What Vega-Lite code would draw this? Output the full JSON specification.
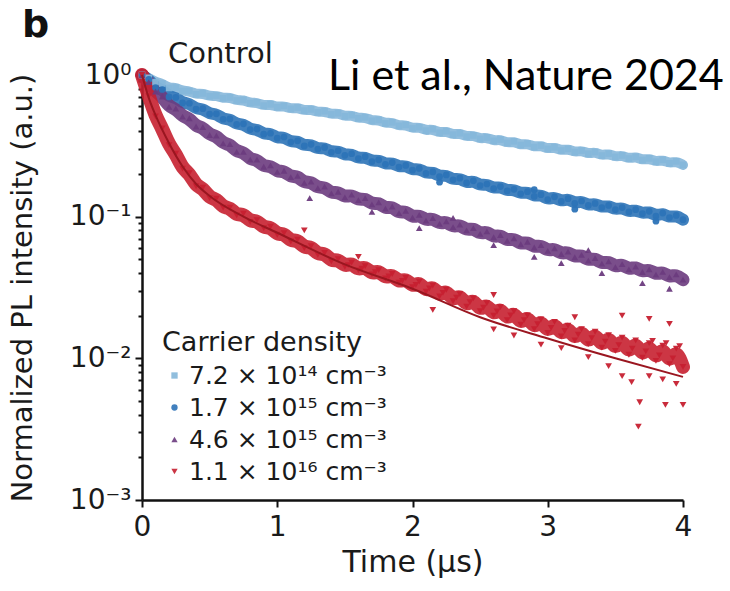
{
  "$schema": "https://vega.github.io/schema/vega-lite/v6.json",
  "width": 541,
  "height": 425,
  "autosize": {"type": "none"},
  "padding": {"left": 142, "top": 75, "right": 47, "bottom": 91},
  "background": "white",
  "config": {
    "view": {"stroke": null},
    "font": "DejaVu Sans",
    "axis": {"domainColor": "#111", "domainWidth": 2.5, "tickColor": "#111", "tickWidth": 2, "labelColor": "#1a1a1a", "titleColor": "#1a1a1a", "labelFont": "DejaVu Sans", "titleFont": "DejaVu Sans", "titleFontWeight": "normal", "grid": false, "labelFlush": false}
  },
  "datasets": {
    "pl": [
      {"d":"7.2e14","t":0,"v":1.0},{"d":"7.2e14","t":0.05,"v":0.955},{"d":"7.2e14","t":0.1,"v":0.89},{"d":"7.2e14","t":0.15,"v":0.87},{"d":"7.2e14","t":0.2,"v":0.81},{"d":"7.2e14","t":0.25,"v":0.815},{"d":"7.2e14","t":0.3,"v":0.77},{"d":"7.2e14","t":0.35,"v":0.772},{"d":"7.2e14","t":0.4,"v":0.73},{"d":"7.2e14","t":0.45,"v":0.742},{"d":"7.2e14","t":0.5,"v":0.708},{"d":"7.2e14","t":0.55,"v":0.716},{"d":"7.2e14","t":0.6,"v":0.685},{"d":"7.2e14","t":0.65,"v":0.695},{"d":"7.2e14","t":0.7,"v":0.661},{"d":"7.2e14","t":0.75,"v":0.667},{"d":"7.2e14","t":0.8,"v":0.634},{"d":"7.2e14","t":0.85,"v":0.641},{"d":"7.2e14","t":0.9,"v":0.607},{"d":"7.2e14","t":0.95,"v":0.622},{"d":"7.2e14","t":1.0,"v":0.592},{"d":"7.2e14","t":1.05,"v":0.605},{"d":"7.2e14","t":1.1,"v":0.577},{"d":"7.2e14","t":1.15,"v":0.589},{"d":"7.2e14","t":1.2,"v":0.561},{"d":"7.2e14","t":1.25,"v":0.572},{"d":"7.2e14","t":1.3,"v":0.545},{"d":"7.2e14","t":1.35,"v":0.555},{"d":"7.2e14","t":1.4,"v":0.527},{"d":"7.2e14","t":1.45,"v":0.538},{"d":"7.2e14","t":1.5,"v":0.511},{"d":"7.2e14","t":1.55,"v":0.521},{"d":"7.2e14","t":1.6,"v":0.494},{"d":"7.2e14","t":1.65,"v":0.503},{"d":"7.2e14","t":1.7,"v":0.475},{"d":"7.2e14","t":1.75,"v":0.482},{"d":"7.2e14","t":1.8,"v":0.455},{"d":"7.2e14","t":1.85,"v":0.464},{"d":"7.2e14","t":1.9,"v":0.437},{"d":"7.2e14","t":1.95,"v":0.445},{"d":"7.2e14","t":2.0,"v":0.419},{"d":"7.2e14","t":2.05,"v":0.429},{"d":"7.2e14","t":2.1,"v":0.405},{"d":"7.2e14","t":2.15,"v":0.415},{"d":"7.2e14","t":2.2,"v":0.391},{"d":"7.2e14","t":2.25,"v":0.401},{"d":"7.2e14","t":2.3,"v":0.379},{"d":"7.2e14","t":2.35,"v":0.388},{"d":"7.2e14","t":2.4,"v":0.367},{"d":"7.2e14","t":2.45,"v":0.375},{"d":"7.2e14","t":2.5,"v":0.354},{"d":"7.2e14","t":2.55,"v":0.363},{"d":"7.2e14","t":2.6,"v":0.343},{"d":"7.2e14","t":2.65,"v":0.351},{"d":"7.2e14","t":2.7,"v":0.331},{"d":"7.2e14","t":2.75,"v":0.34},{"d":"7.2e14","t":2.8,"v":0.32},{"d":"7.2e14","t":2.85,"v":0.328},{"d":"7.2e14","t":2.9,"v":0.31},{"d":"7.2e14","t":2.95,"v":0.318},{"d":"7.2e14","t":3.0,"v":0.301},{"d":"7.2e14","t":3.05,"v":0.309},{"d":"7.2e14","t":3.1,"v":0.293},{"d":"7.2e14","t":3.15,"v":0.301},{"d":"7.2e14","t":3.2,"v":0.285},{"d":"7.2e14","t":3.25,"v":0.293},{"d":"7.2e14","t":3.3,"v":0.278},{"d":"7.2e14","t":3.35,"v":0.286},{"d":"7.2e14","t":3.4,"v":0.27},{"d":"7.2e14","t":3.45,"v":0.279},{"d":"7.2e14","t":3.5,"v":0.264},{"d":"7.2e14","t":3.55,"v":0.271},{"d":"7.2e14","t":3.6,"v":0.257},{"d":"7.2e14","t":3.65,"v":0.265},{"d":"7.2e14","t":3.7,"v":0.251},{"d":"7.2e14","t":3.75,"v":0.258},{"d":"7.2e14","t":3.8,"v":0.244},{"d":"7.2e14","t":3.85,"v":0.252},{"d":"7.2e14","t":3.9,"v":0.238},{"d":"7.2e14","t":3.95,"v":0.246},{"d":"7.2e14","t":4.0,"v":0.232},
      {"d":"1.7e15","t":0,"v":1.0},{"d":"1.7e15","t":0.05,"v":0.93},{"d":"1.7e15","t":0.1,"v":0.815},{"d":"1.7e15","t":0.15,"v":0.79},{"d":"1.7e15","t":0.2,"v":0.7},{"d":"1.7e15","t":0.25,"v":0.695},{"d":"1.7e15","t":0.3,"v":0.635},{"d":"1.7e15","t":0.35,"v":0.632},{"d":"1.7e15","t":0.4,"v":0.575},{"d":"1.7e15","t":0.45,"v":0.578},{"d":"1.7e15","t":0.5,"v":0.53},{"d":"1.7e15","t":0.55,"v":0.532},{"d":"1.7e15","t":0.6,"v":0.487},{"d":"1.7e15","t":0.65,"v":0.49},{"d":"1.7e15","t":0.7,"v":0.448},{"d":"1.7e15","t":0.75,"v":0.452},{"d":"1.7e15","t":0.8,"v":0.412},{"d":"1.7e15","t":0.85,"v":0.415},{"d":"1.7e15","t":0.9,"v":0.382},{"d":"1.7e15","t":0.95,"v":0.388},{"d":"1.7e15","t":1.0,"v":0.358},{"d":"1.7e15","t":1.05,"v":0.365},{"d":"1.7e15","t":1.1,"v":0.336},{"d":"1.7e15","t":1.15,"v":0.343},{"d":"1.7e15","t":1.2,"v":0.316},{"d":"1.7e15","t":1.25,"v":0.324},{"d":"1.7e15","t":1.3,"v":0.3},{"d":"1.7e15","t":1.35,"v":0.308},{"d":"1.7e15","t":1.4,"v":0.285},{"d":"1.7e15","t":1.45,"v":0.292},{"d":"1.7e15","t":1.5,"v":0.271},{"d":"1.7e15","t":1.55,"v":0.278},{"d":"1.7e15","t":1.6,"v":0.257},{"d":"1.7e15","t":1.65,"v":0.265},{"d":"1.7e15","t":1.7,"v":0.245},{"d":"1.7e15","t":1.75,"v":0.252},{"d":"1.7e15","t":1.8,"v":0.234},{"d":"1.7e15","t":1.85,"v":0.241},{"d":"1.7e15","t":1.9,"v":0.224},{"d":"1.7e15","t":1.95,"v":0.23},{"d":"1.7e15","t":2.0,"v":0.213},{"d":"1.7e15","t":2.05,"v":0.219},{"d":"1.7e15","t":2.1,"v":0.202},{"d":"1.7e15","t":2.15,"v":0.207},{"d":"1.7e15","t":2.2,"v":0.192},{"d":"1.7e15","t":2.25,"v":0.197},{"d":"1.7e15","t":2.3,"v":0.182},{"d":"1.7e15","t":2.35,"v":0.187},{"d":"1.7e15","t":2.4,"v":0.173},{"d":"1.7e15","t":2.45,"v":0.179},{"d":"1.7e15","t":2.5,"v":0.166},{"d":"1.7e15","t":2.55,"v":0.17},{"d":"1.7e15","t":2.6,"v":0.158},{"d":"1.7e15","t":2.65,"v":0.163},{"d":"1.7e15","t":2.7,"v":0.152},{"d":"1.7e15","t":2.75,"v":0.156},{"d":"1.7e15","t":2.8,"v":0.145},{"d":"1.7e15","t":2.85,"v":0.15},{"d":"1.7e15","t":2.9,"v":0.139},{"d":"1.7e15","t":2.95,"v":0.143},{"d":"1.7e15","t":3.0,"v":0.132},{"d":"1.7e15","t":3.05,"v":0.138},{"d":"1.7e15","t":3.1,"v":0.128},{"d":"1.7e15","t":3.15,"v":0.134},{"d":"1.7e15","t":3.2,"v":0.124},{"d":"1.7e15","t":3.25,"v":0.129},{"d":"1.7e15","t":3.3,"v":0.12},{"d":"1.7e15","t":3.35,"v":0.124},{"d":"1.7e15","t":3.4,"v":0.116},{"d":"1.7e15","t":3.45,"v":0.12},{"d":"1.7e15","t":3.5,"v":0.112},{"d":"1.7e15","t":3.55,"v":0.116},{"d":"1.7e15","t":3.6,"v":0.108},{"d":"1.7e15","t":3.65,"v":0.112},{"d":"1.7e15","t":3.7,"v":0.105},{"d":"1.7e15","t":3.75,"v":0.109},{"d":"1.7e15","t":3.8,"v":0.101},{"d":"1.7e15","t":3.85,"v":0.106},{"d":"1.7e15","t":3.9,"v":0.0985},{"d":"1.7e15","t":3.95,"v":0.102},{"d":"1.7e15","t":4.0,"v":0.0952},
      {"d":"4.6e15","t":0,"v":1.0},{"d":"4.6e15","t":0.05,"v":0.89},{"d":"4.6e15","t":0.1,"v":0.765},{"d":"4.6e15","t":0.15,"v":0.705},{"d":"4.6e15","t":0.2,"v":0.595},{"d":"4.6e15","t":0.25,"v":0.58},{"d":"4.6e15","t":0.3,"v":0.508},{"d":"4.6e15","t":0.35,"v":0.495},{"d":"4.6e15","t":0.4,"v":0.433},{"d":"4.6e15","t":0.45,"v":0.428},{"d":"4.6e15","t":0.5,"v":0.377},{"d":"4.6e15","t":0.55,"v":0.373},{"d":"4.6e15","t":0.6,"v":0.329},{"d":"4.6e15","t":0.65,"v":0.325},{"d":"4.6e15","t":0.7,"v":0.287},{"d":"4.6e15","t":0.75,"v":0.287},{"d":"4.6e15","t":0.8,"v":0.253},{"d":"4.6e15","t":0.85,"v":0.253},{"d":"4.6e15","t":0.9,"v":0.225},{"d":"4.6e15","t":0.95,"v":0.23},{"d":"4.6e15","t":1.0,"v":0.207},{"d":"4.6e15","t":1.05,"v":0.211},{"d":"4.6e15","t":1.1,"v":0.19},{"d":"4.6e15","t":1.15,"v":0.194},{"d":"4.6e15","t":1.2,"v":0.173},{"d":"4.6e15","t":1.25,"v":0.177},{"d":"4.6e15","t":1.3,"v":0.159},{"d":"4.6e15","t":1.35,"v":0.163},{"d":"4.6e15","t":1.4,"v":0.146},{"d":"4.6e15","t":1.45,"v":0.15},{"d":"4.6e15","t":1.5,"v":0.137},{"d":"4.6e15","t":1.55,"v":0.143},{"d":"4.6e15","t":1.6,"v":0.131},{"d":"4.6e15","t":1.65,"v":0.135},{"d":"4.6e15","t":1.7,"v":0.122},{"d":"4.6e15","t":1.75,"v":0.126},{"d":"4.6e15","t":1.8,"v":0.114},{"d":"4.6e15","t":1.85,"v":0.118},{"d":"4.6e15","t":1.9,"v":0.106},{"d":"4.6e15","t":1.95,"v":0.11},{"d":"4.6e15","t":2.0,"v":0.0985},{"d":"4.6e15","t":2.05,"v":0.103},{"d":"4.6e15","t":2.1,"v":0.0938},{"d":"4.6e15","t":2.15,"v":0.0977},{"d":"4.6e15","t":2.2,"v":0.0889},{"d":"4.6e15","t":2.25,"v":0.0926},{"d":"4.6e15","t":2.3,"v":0.0843},{"d":"4.6e15","t":2.35,"v":0.0879},{"d":"4.6e15","t":2.4,"v":0.08},{"d":"4.6e15","t":2.45,"v":0.0831},{"d":"4.6e15","t":2.5,"v":0.0756},{"d":"4.6e15","t":2.55,"v":0.0787},{"d":"4.6e15","t":2.6,"v":0.0716},{"d":"4.6e15","t":2.65,"v":0.0742},{"d":"4.6e15","t":2.7,"v":0.0676},{"d":"4.6e15","t":2.75,"v":0.0703},{"d":"4.6e15","t":2.8,"v":0.0639},{"d":"4.6e15","t":2.85,"v":0.0665},{"d":"4.6e15","t":2.9,"v":0.0606},{"d":"4.6e15","t":2.95,"v":0.063},{"d":"4.6e15","t":3.0,"v":0.0573},{"d":"4.6e15","t":3.05,"v":0.0597},{"d":"4.6e15","t":3.1,"v":0.0545},{"d":"4.6e15","t":3.15,"v":0.0566},{"d":"4.6e15","t":3.2,"v":0.0517},{"d":"4.6e15","t":3.25,"v":0.0538},{"d":"4.6e15","t":3.3,"v":0.049},{"d":"4.6e15","t":3.35,"v":0.051},{"d":"4.6e15","t":3.4,"v":0.0466},{"d":"4.6e15","t":3.45,"v":0.0484},{"d":"4.6e15","t":3.5,"v":0.0441},{"d":"4.6e15","t":3.55,"v":0.0463},{"d":"4.6e15","t":3.6,"v":0.0424},{"d":"4.6e15","t":3.65,"v":0.0444},{"d":"4.6e15","t":3.7,"v":0.0407},{"d":"4.6e15","t":3.75,"v":0.0425},{"d":"4.6e15","t":3.8,"v":0.039},{"d":"4.6e15","t":3.85,"v":0.0408},{"d":"4.6e15","t":3.9,"v":0.0374},{"d":"4.6e15","t":3.95,"v":0.0391},{"d":"4.6e15","t":4.0,"v":0.0359},
      {"d":"1.1e16","t":0,"v":1.0},{"d":"1.1e16","t":0.05,"v":0.71},{"d":"1.1e16","t":0.1,"v":0.51},{"d":"1.1e16","t":0.15,"v":0.42},{"d":"1.1e16","t":0.2,"v":0.32},{"d":"1.1e16","t":0.25,"v":0.278},{"d":"1.1e16","t":0.3,"v":0.218},{"d":"1.1e16","t":0.35,"v":0.203},{"d":"1.1e16","t":0.4,"v":0.164},{"d":"1.1e16","t":0.45,"v":0.16},{"d":"1.1e16","t":0.5,"v":0.135},{"d":"1.1e16","t":0.55,"v":0.134},{"d":"1.1e16","t":0.6,"v":0.116},{"d":"1.1e16","t":0.65,"v":0.116},{"d":"1.1e16","t":0.7,"v":0.102},{"d":"1.1e16","t":0.75,"v":0.105},{"d":"1.1e16","t":0.8,"v":0.092},{"d":"1.1e16","t":0.85,"v":0.0945},{"d":"1.1e16","t":0.9,"v":0.083},{"d":"1.1e16","t":0.95,"v":0.085},{"d":"1.1e16","t":1.0,"v":0.0745},{"d":"1.1e16","t":1.05,"v":0.0765},{"d":"1.1e16","t":1.1,"v":0.0668},{"d":"1.1e16","t":1.15,"v":0.0688},{"d":"1.1e16","t":1.2,"v":0.06},{"d":"1.1e16","t":1.25,"v":0.0618},{"d":"1.1e16","t":1.3,"v":0.0538},{"d":"1.1e16","t":1.35,"v":0.0556},{"d":"1.1e16","t":1.4,"v":0.0483},{"d":"1.1e16","t":1.45,"v":0.0502},{"d":"1.1e16","t":1.5,"v":0.0443},{"d":"1.1e16","t":1.55,"v":0.0474},{"d":"1.1e16","t":1.6,"v":0.0418},{"d":"1.1e16","t":1.65,"v":0.0448},{"d":"1.1e16","t":1.7,"v":0.0391},{"d":"1.1e16","t":1.75,"v":0.042},{"d":"1.1e16","t":1.8,"v":0.0366},{"d":"1.1e16","t":1.85,"v":0.0394},{"d":"1.1e16","t":1.9,"v":0.0342},{"d":"1.1e16","t":1.95,"v":0.0369},{"d":"1.1e16","t":2.0,"v":0.0318},{"d":"1.1e16","t":2.05,"v":0.0348},{"d":"1.1e16","t":2.1,"v":0.0295},{"d":"1.1e16","t":2.15,"v":0.0326},{"d":"1.1e16","t":2.2,"v":0.0274},{"d":"1.1e16","t":2.25,"v":0.0305},{"d":"1.1e16","t":2.3,"v":0.0253},{"d":"1.1e16","t":2.35,"v":0.0284},{"d":"1.1e16","t":2.4,"v":0.0232},{"d":"1.1e16","t":2.45,"v":0.0265},{"d":"1.1e16","t":2.5,"v":0.0215},{"d":"1.1e16","t":2.55,"v":0.0245},{"d":"1.1e16","t":2.6,"v":0.02},{"d":"1.1e16","t":2.65,"v":0.023},{"d":"1.1e16","t":2.7,"v":0.0186},{"d":"1.1e16","t":2.75,"v":0.0215},{"d":"1.1e16","t":2.8,"v":0.0173},{"d":"1.1e16","t":2.85,"v":0.0201},{"d":"1.1e16","t":2.9,"v":0.0161},{"d":"1.1e16","t":2.95,"v":0.0188},{"d":"1.1e16","t":3.0,"v":0.0151},{"d":"1.1e16","t":3.05,"v":0.0181},{"d":"1.1e16","t":3.1,"v":0.0143},{"d":"1.1e16","t":3.15,"v":0.017},{"d":"1.1e16","t":3.2,"v":0.0134},{"d":"1.1e16","t":3.25,"v":0.0161},{"d":"1.1e16","t":3.3,"v":0.0126},{"d":"1.1e16","t":3.35,"v":0.0154},{"d":"1.1e16","t":3.4,"v":0.0119},{"d":"1.1e16","t":3.45,"v":0.0146},{"d":"1.1e16","t":3.5,"v":0.0113},{"d":"1.1e16","t":3.55,"v":0.014},{"d":"1.1e16","t":3.6,"v":0.0106},{"d":"1.1e16","t":3.65,"v":0.0134},{"d":"1.1e16","t":3.7,"v":0.0101},{"d":"1.1e16","t":3.75,"v":0.0128},{"d":"1.1e16","t":3.8,"v":0.0096},{"d":"1.1e16","t":3.85,"v":0.0123},{"d":"1.1e16","t":3.9,"v":0.0091},{"d":"1.1e16","t":3.95,"v":0.0117},{"d":"1.1e16","t":4.0,"v":0.0087},
      {"d":"1.7e15","t":2.2,"v":0.175,"o":1},{"d":"1.7e15","t":2.9,"v":0.155,"o":1},{"d":"1.7e15","t":3.2,"v":0.113,"o":1},{"d":"1.7e15","t":3.8,"v":0.093,"o":1},
      {"d":"4.6e15","t":1.24,"v":0.135,"o":1},{"d":"4.6e15","t":1.7,"v":0.108,"o":1},{"d":"4.6e15","t":2.05,"v":0.083,"o":1},{"d":"4.6e15","t":2.6,"v":0.063,"o":1},{"d":"4.6e15","t":2.9,"v":0.052,"o":1},{"d":"4.6e15","t":3.1,"v":0.047,"o":1},{"d":"4.6e15","t":3.4,"v":0.04,"o":1},{"d":"4.6e15","t":3.7,"v":0.034,"o":1},{"d":"4.6e15","t":3.9,"v":0.031,"o":1},{"d":"4.6e15","t":2.3,"v":0.098,"o":1},{"d":"4.6e15","t":3.3,"v":0.058,"o":1},
      {"d":"1.1e16","t":1.525,"v":0.0455,"o":1},{"d":"1.1e16","t":1.625,"v":0.043,"o":1},{"d":"1.1e16","t":1.725,"v":0.0405,"o":1},{"d":"1.1e16","t":1.825,"v":0.0378,"o":1},{"d":"1.1e16","t":1.925,"v":0.0352,"o":1},{"d":"1.1e16","t":2.025,"v":0.033,"o":1},{"d":"1.1e16","t":2.125,"v":0.0312,"o":1},{"d":"1.1e16","t":2.225,"v":0.029,"o":1},{"d":"1.1e16","t":2.325,"v":0.0268,"o":1},{"d":"1.1e16","t":2.425,"v":0.0249,"o":1},{"d":"1.1e16","t":2.525,"v":0.0228,"o":1},{"d":"1.1e16","t":2.625,"v":0.0214,"o":1},{"d":"1.1e16","t":2.725,"v":0.0201,"o":1},{"d":"1.1e16","t":2.825,"v":0.0186,"o":1},{"d":"1.1e16","t":2.925,"v":0.0174,"o":1},{"d":"1.1e16","t":3.025,"v":0.0164,"o":1},{"d":"1.1e16","t":3.125,"v":0.0156,"o":1},{"d":"1.1e16","t":3.225,"v":0.0147,"o":1},{"d":"1.1e16","t":3.325,"v":0.0139,"o":1},{"d":"1.1e16","t":3.425,"v":0.0131,"o":1},{"d":"1.1e16","t":3.525,"v":0.0124,"o":1},{"d":"1.1e16","t":3.625,"v":0.0117,"o":1},{"d":"1.1e16","t":3.725,"v":0.0112,"o":1},{"d":"1.1e16","t":3.825,"v":0.0105,"o":1},{"d":"1.1e16","t":3.925,"v":0.01,"o":1},{"d":"1.1e16","t":3.975,"v":0.0122,"o":1},{"d":"1.1e16","t":3.875,"v":0.0128,"o":1},{"d":"1.1e16","t":3.775,"v":0.0133,"o":1},
      {"d":"1.1e16","t":2.15,"v":0.022,"o":1},{"d":"1.1e16","t":2.6,"v":0.016,"o":1},{"d":"1.1e16","t":2.75,"v":0.0145,"o":1},{"d":"1.1e16","t":2.95,"v":0.0125,"o":1},{"d":"1.1e16","t":3.1,"v":0.0118,"o":1},{"d":"1.1e16","t":3.3,"v":0.0102,"o":1},{"d":"1.1e16","t":3.45,"v":0.0088,"o":1},{"d":"1.1e16","t":3.55,"v":0.0075,"o":1},{"d":"1.1e16","t":3.62,"v":0.0068,"o":1},{"d":"1.1e16","t":3.75,"v":0.0075,"o":1},{"d":"1.1e16","t":3.85,"v":0.0071,"o":1},{"d":"1.1e16","t":3.95,"v":0.0066,"o":1},{"d":"1.1e16","t":3.68,"v":0.0049,"o":1},{"d":"1.1e16","t":3.87,"v":0.0047,"o":1},{"d":"1.1e16","t":4.0,"v":0.0047,"o":1},{"d":"1.1e16","t":3.67,"v":0.0033,"o":1},{"d":"1.1e16","t":2.6,"v":0.028,"o":1},{"d":"1.1e16","t":3.2,"v":0.0195,"o":1},{"d":"1.1e16","t":3.55,"v":0.02,"o":1},{"d":"1.1e16","t":3.75,"v":0.019,"o":1},{"d":"1.1e16","t":3.9,"v":0.0175,"o":1},{"d":"1.1e16","t":1.2,"v":0.08,"o":1},{"d":"1.1e16","t":1.6,"v":0.052,"o":1}
    ],
    "fit": [
      {"t":0,"v":1.0},{"t":0.05,"v":0.69},{"t":0.1,"v":0.52},{"t":0.2,"v":0.33},{"t":0.3,"v":0.226},{"t":0.4,"v":0.17},{"t":0.5,"v":0.14},{"t":0.75,"v":0.1},{"t":1.0,"v":0.077},{"t":1.5,"v":0.046},{"t":2.0,"v":0.031},{"t":2.5,"v":0.0195},{"t":3.0,"v":0.0138},{"t":3.5,"v":0.01},{"t":4.0,"v":0.0074}
    ],
    "notes": [
      {"t":-0.887,"v":1.85,"label":"b","kind":"panel"},
      {"t":0.192,"v":1.216,"label":"Control","kind":"control"},
      {"t":1.375,"v":0.783,"label":"Li et al., Nature 2024","kind":"cite"}
    ]
  },
  "layer": [
    {
      "data": {"name": "pl"},
      "transform": [{"filter": "!datum.o && datum.d == '7.2e14'"}],
      "mark": {"type": "line", "color": "#86b7da", "strokeWidth": 10, "strokeCap": "round", "strokeJoin": "round", "opacity": 0.9, "interpolate": "basis"},
      "encoding": {
        "x": {"field": "t", "type": "quantitative", "title": "Time (µs)"},
        "y": {"field": "v", "type": "quantitative", "title": "Normalized PL intensity (a.u.)"}
      }
    },
    {
      "data": {"name": "pl"},
      "transform": [{"filter": "!datum.o && datum.d == '1.7e15'"}],
      "mark": {"type": "line", "color": "#2c73b7", "strokeWidth": 12, "strokeCap": "round", "strokeJoin": "round", "opacity": 0.9, "interpolate": "basis"},
      "encoding": {
        "x": {"field": "t", "type": "quantitative", "title": "Time (µs)"},
        "y": {"field": "v", "type": "quantitative", "title": "Normalized PL intensity (a.u.)"}
      }
    },
    {
      "data": {"name": "pl"},
      "transform": [{"filter": "!datum.o && datum.d == '4.6e15'"}],
      "mark": {"type": "line", "color": "#6c3b7e", "strokeWidth": 13, "strokeCap": "round", "strokeJoin": "round", "opacity": 0.9, "interpolate": "basis"},
      "encoding": {
        "x": {"field": "t", "type": "quantitative", "title": "Time (µs)"},
        "y": {"field": "v", "type": "quantitative", "title": "Normalized PL intensity (a.u.)"}
      }
    },
    {
      "data": {"name": "pl"},
      "transform": [{"filter": "!datum.o && datum.d == '1.1e16'"}],
      "mark": {"type": "line", "color": "#c62030", "strokeWidth": 14, "strokeCap": "round", "strokeJoin": "round", "opacity": 0.9, "interpolate": "basis"},
      "encoding": {
        "x": {"field": "t", "type": "quantitative", "title": "Time (µs)"},
        "y": {"field": "v", "type": "quantitative", "title": "Normalized PL intensity (a.u.)"}
      }
    },
    {
      "data": {"name": "pl"},
      "mark": {"type": "point", "filled": true, "size": 45, "opacity": 0.95, "strokeWidth": 0},
      "encoding": {
        "x": {"field": "t", "type": "quantitative", "title": "Time (µs)", "scale": {"domain": [0, 4], "nice": false},
          "axis": {"values": [0, 1, 2, 3, 4], "format": "d", "titleFontSize": 30, "labelFontSize": 28, "tickSize": 7, "labelPadding": 6, "titlePadding": 6}},
        "y": {"field": "v", "type": "quantitative", "title": "Normalized PL intensity (a.u.)", "scale": {"type": "log", "domain": [0.001, 1], "nice": false},
          "axis": {"orient": "left", "values": [1, 0.9, 0.8, 0.7, 0.6, 0.5, 0.4, 0.3, 0.2, 0.1, 0.09, 0.08, 0.07, 0.06, 0.05, 0.04, 0.03, 0.02, 0.01, 0.009, 0.008, 0.007, 0.006, 0.005, 0.004, 0.003, 0.002, 0.001],
            "tickSize": {"condition": {"test": "indexof([1, 0.1, 0.01, 0.001], datum.value) >= 0", "value": 7}, "value": 4},
            "labelFontSize": 28, "labelPadding": 4,
            "labelExpr": "datum.value == 1 ? '10⁰' : datum.value == 0.1 ? '10⁻¹' : datum.value == 0.01 ? '10⁻²' : datum.value == 0.001 ? '10⁻³' : ''",
            "titleFontSize": 29, "titlePadding": 32}},
        "color": {"field": "d", "type": "nominal",
          "scale": {"domain": ["7.2e14", "1.7e15", "4.6e15", "1.1e16"], "range": ["#86b7da", "#2c73b7", "#6c3b7e", "#c62030"]},
          "legend": {"orient": "none", "legendX": 20, "legendY": 255, "title": "Carrier density", "titleFontSize": 27, "titleFontWeight": "normal", "titleColor": "#1a1a1a", "titlePadding": 6, "titleLimit": 400,
            "labelFontSize": 25, "labelColor": "#1a1a1a", "labelOffset": 2, "labelLimit": 400, "rowPadding": 6, "symbolSize": 40, "symbolOpacity": 0.7, "symbolOffset": 0, "padding": 0,
            "labelExpr": "datum.value == '7.2e14' ? '7.2 × 10¹⁴ cm⁻³' : datum.value == '1.7e15' ? '1.7 × 10¹⁵ cm⁻³' : datum.value == '4.6e15' ? '4.6 × 10¹⁵ cm⁻³' : '1.1 × 10¹⁶ cm⁻³'"}},
        "shape": {"field": "d", "type": "nominal",
          "scale": {"domain": ["7.2e14", "1.7e15", "4.6e15", "1.1e16"], "range": ["square", "circle", "triangle-up", "triangle-down"]}}
      }
    },
    {
      "data": {"name": "fit"},
      "mark": {"type": "line", "color": "#9a1620", "strokeWidth": 2, "interpolate": "monotone"},
      "encoding": {
        "x": {"field": "t", "type": "quantitative", "title": "Time (µs)"},
        "y": {"field": "v", "type": "quantitative", "title": "Normalized PL intensity (a.u.)"}
      }
    },
    {
      "data": {"name": "notes"},
      "transform": [{"filter": "datum.kind == 'panel'"}],
      "mark": {"type": "text", "align": "left", "baseline": "alphabetic", "fontSize": 38, "fontWeight": "bold", "font": "DejaVu Sans", "color": "#111"},
      "encoding": {
        "x": {"field": "t", "type": "quantitative", "title": "Time (µs)"},
        "y": {"field": "v", "type": "quantitative", "title": "Normalized PL intensity (a.u.)"},
        "text": {"field": "label"}
      }
    },
    {
      "data": {"name": "notes"},
      "transform": [{"filter": "datum.kind == 'control'"}],
      "mark": {"type": "text", "align": "left", "baseline": "alphabetic", "fontSize": 29, "font": "DejaVu Sans", "color": "#1a1a1a"},
      "encoding": {
        "x": {"field": "t", "type": "quantitative", "title": "Time (µs)"},
        "y": {"field": "v", "type": "quantitative", "title": "Normalized PL intensity (a.u.)"},
        "text": {"field": "label"}
      }
    },
    {
      "data": {"name": "notes"},
      "transform": [{"filter": "datum.kind == 'cite'"}],
      "mark": {"type": "text", "align": "left", "baseline": "alphabetic", "fontSize": 43, "font": "Lato", "color": "#000"},
      "encoding": {
        "x": {"field": "t", "type": "quantitative", "title": "Time (µs)"},
        "y": {"field": "v", "type": "quantitative", "title": "Normalized PL intensity (a.u.)"},
        "text": {"field": "label"}
      }
    }
  ]
}
